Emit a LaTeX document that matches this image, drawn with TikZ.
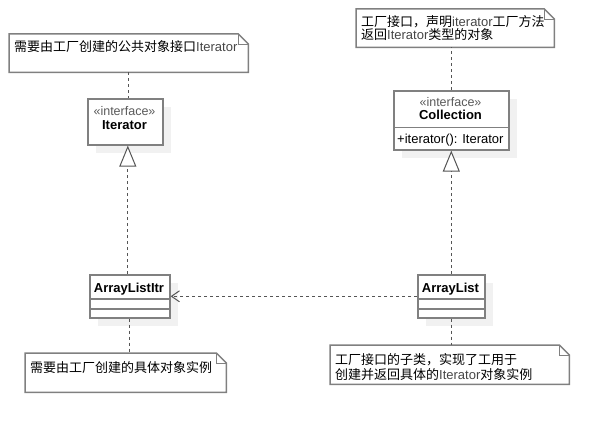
\documentclass[tikz,border=0pt]{standalone}
\usepackage{fontspec}
\setmainfont{Liberation Sans}
\newfontfamily\cjk{Noto Sans CJK SC}
\usetikzlibrary{arrows.meta,shadows}
\definecolor{bord}{RGB}{128,128,128}
\definecolor{dashc}{RGB}{85,85,85}
\definecolor{shad}{RGB}{241,241,241}
\definecolor{lat}{RGB}{70,70,70}
\definecolor{stc}{RGB}{90,90,90}
\newcommand\umlnote[1]{%
  \draw[notebd] (#1.north west) -- ([xshift=-10pt]#1.north east) -- ([yshift=-10pt]#1.north east) -- (#1.south east) -- (#1.south west) -- cycle;
  \draw[notefold] ([xshift=-10pt]#1.north east) -- ([xshift=-10pt,yshift=-10pt]#1.north east) -- ([yshift=-10pt]#1.north east);}
\begin{document}
\begin{tikzpicture}[x=1pt,y=-1pt,
  cls/.style={draw=bord, line width=1.6pt, fill=white, inner sep=0pt, anchor=north west,
    drop shadow={shadow xshift=8pt, shadow yshift=-8pt, fill=shad, opacity=1}},
  notebox/.style={inner sep=0pt, anchor=north west},
  notebd/.style={draw=bord, line width=1.5pt, fill=white, line join=miter},
  notefold/.style={draw=bord, line width=0.8pt},
  ntxt/.style={inner sep=0pt, anchor=base west, font=\fontsize{13}{15}\selectfont},
  stereo/.style={inner sep=0pt, anchor=base, text=stc, font=\fontsize{12.5}{14}\selectfont},
  cname/.style={inner sep=0pt, anchor=base, font=\fontsize{13}{15}\selectfont\bfseries},
  optxt/.style={inner sep=0pt, anchor=base west, font=\fontsize{13}{15}\selectfont},
  sep/.style={draw=bord, line width=1.6pt},
  dline/.style={draw=dashc, line width=1pt, dash pattern=on 3pt off 3pt},
  gen/.style={dline, -{Triangle[length=21pt, width=17pt, fill=white, line width=1pt]}},
  dep/.style={dline, -{Straight Barb[length=8pt, width=11pt, line width=1pt]}}
]
\fill[white] (0,0) rectangle (610,433);
\useasboundingbox (0,0) rectangle (610,433);

% class boxes
\node[cls, minimum width=75pt, minimum height=46pt] (it) at (87,98) {};
\node[stereo] (itS) at (124.5,115.5) {«interface»};
\node[cname] (itN) at (124.5,129.5) {Iterator};

\node[cls, minimum width=115pt, minimum height=59pt] (col) at (393,90) {};
\node[stereo] (colS) at (450.5,106.3) {«interface»};
\node[cname] (colN) at (450.5,119.3) {Collection};
\draw[sep] (col.north west) ++(0,37.7) coordinate (colA) -- (colA -| col.east);
\node[optxt] (colO) at (397,143) {+iterator(): Iterator};

\node[cls, minimum width=80pt, minimum height=43pt] (ali) at (89,274) {};
\node[cname] (aliN) at (129,292) {ArrayListItr};
\draw[sep] (ali.north west) ++(0,24.7) coordinate (aliA) -- (aliA -| ali.east);
\draw[sep] (ali.north west) ++(0,34.7) coordinate (aliB) -- (aliB -| ali.east);

\node[cls, minimum width=67pt, minimum height=43pt] (al) at (417,274) {};
\node[cname] (alN) at (450.5,292) {ArrayList};
\draw[sep] (al.north west) ++(0,24.7) coordinate (alA) -- (alA -| al.east);
\draw[sep] (al.north west) ++(0,34.7) coordinate (alB) -- (alB -| al.east);

% notes
\node[notebox, minimum width=239pt, minimum height=38pt] (n1) at (9,34) {};
\umlnote{n1}
\node[ntxt] (n1t) at (14,51.5) {\cjk 需要由工厂创建的公共对象接口\textcolor{lat}{\rmfamily Iterator}};

\node[notebox, minimum width=198pt, minimum height=38pt] (n2) at (356,9) {};
\umlnote{n2}
\node[ntxt] (n2a) at (361,26.7) {\cjk 工厂接口，声明\textcolor{lat}{\rmfamily iterator}工厂方法};
\node[ntxt] (n2b) at (361,40) {\cjk 返回\textcolor{lat}{\rmfamily Iterator}类型的对象};

\node[notebox, minimum width=201pt, minimum height=39pt] (n3) at (25,353) {};
\umlnote{n3}
\node[ntxt] (n3t) at (30,372.7) {\cjk 需要由工厂创建的具体对象实例};

\node[notebox, minimum width=239pt, minimum height=39pt] (n4) at (330,345) {};
\umlnote{n4}
\node[ntxt] (n4a) at (335,364) {\cjk 工厂接口的子类，实现了工用于};
\node[ntxt] (n4b) at (335,379.3) {\cjk 创建并返回具体的\textcolor{lat}{\rmfamily Iterator}对象实例};

% connectors
\draw[dline] ([xshift=-0.5pt]n1.south) -- ([xshift=-0.5pt]n1.south |- it.north);
\draw[dline] (col.north) -- (col.north |- n2.south);
\draw[dline] (ali.south) -- (ali.south |- n3.north);
\draw[dline] (al.south) -- (al.south |- n4.north);
\draw[gen] ([xshift=-2pt]ali.north) -- ([xshift=-2pt]ali.north |- it.south);
\draw[gen] (al.north) -- (al.north |- col.south);
\draw[dep] (al.west) -- (al.west -| ali.east);
\end{tikzpicture}
\end{document}
